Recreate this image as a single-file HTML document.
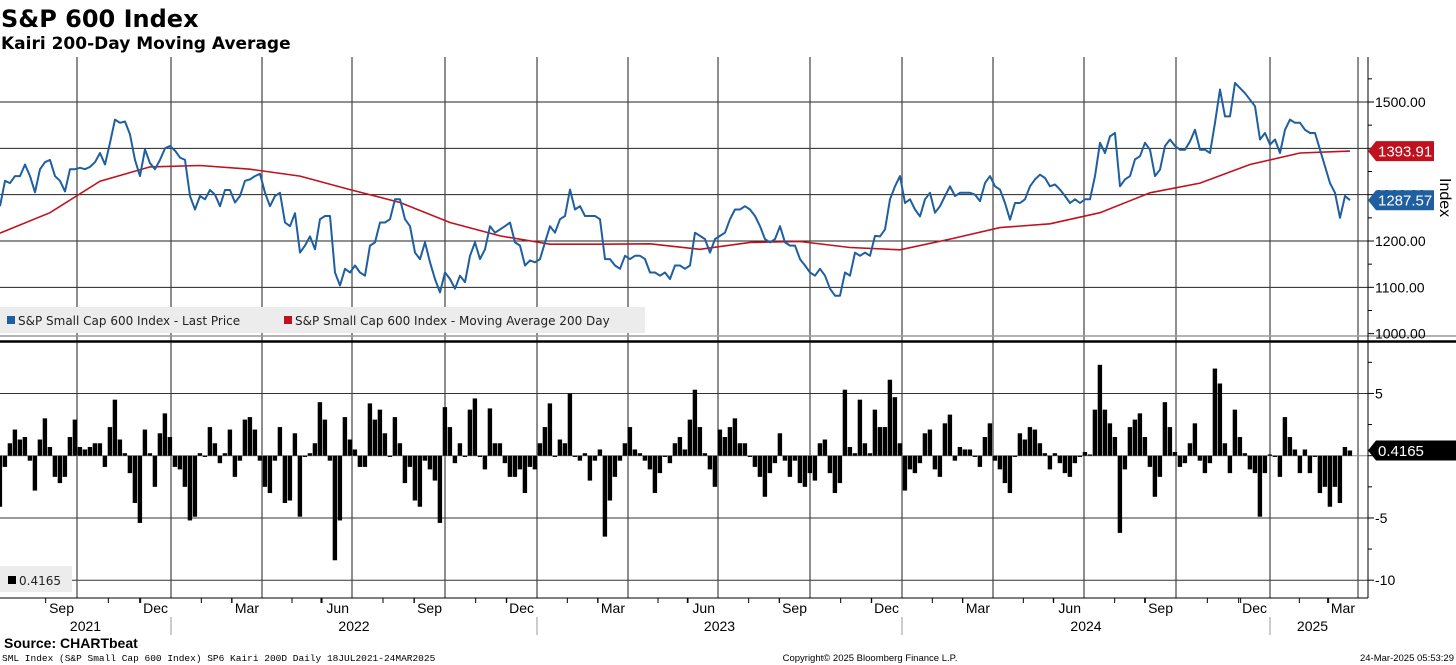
<!DOCTYPE html>
<html><head><meta charset="utf-8"><style>
body{margin:0;background:#fff;width:1456px;height:665px;overflow:hidden;font-family:"Liberation Sans",sans-serif}
svg{display:block}
</style></head><body>
<svg id="chart" width="1456" height="665" viewBox="0 0 1456 665" xmlns="http://www.w3.org/2000/svg">
<text x="1" y="27" font-size="24" font-weight="bold" font-family="DejaVu Sans, sans-serif" fill="#000">S&amp;P 600 Index</text>
<text x="1" y="49" font-size="17" font-weight="bold" font-family="DejaVu Sans, sans-serif" fill="#000">Kairi 200-Day Moving Average</text>
<g id="grid"></g>
<g id="bars"></g>
<g id="lines"></g>
<g id="axes"></g>
<g font-family="DejaVu Sans, sans-serif">
<rect x="0" y="307" width="645" height="26" fill="#ececec"/>
<rect x="7" y="316" width="8" height="8" fill="#1f5fa0"/>
<text x="18" y="325" font-size="12" fill="#222">S&amp;P Small Cap 600 Index - Last Price</text>
<rect x="284" y="316" width="8" height="8" fill="#c0111f"/>
<text x="295" y="325" font-size="12" fill="#222">S&amp;P Small Cap 600 Index - Moving Average 200 Day</text>
</g>
<g font-family="DejaVu Sans, sans-serif">
<rect x="0" y="566" width="72" height="26" fill="#ececec"/>
<rect x="8" y="576" width="8" height="8" fill="#000"/>
<text x="19" y="585" font-size="12" fill="#222">0.4165</text>
</g>
<text transform="translate(1440,178) rotate(90)" font-size="16" fill="#000">Index</text>
<text x="4" y="648" font-size="14" font-weight="bold" fill="#000">Source: CHARTbeat</text>
<text x="2" y="661" font-size="9.5" font-family="Liberation Mono, monospace" fill="#000">SML Index (S&amp;P Small Cap 600 Index) SP6 Kairi 200D  Daily 18JUL2021-24MAR2025</text>
<text x="870" y="661" font-size="9.5" text-anchor="middle" fill="#000">Copyright© 2025 Bloomberg Finance L.P.</text>
<text x="1454" y="661" font-size="9.5" text-anchor="end" fill="#000">24-Mar-2025 05:53:29</text>
</svg>
<script>
const price=[1275,1330,1325,1340,1340,1365,1340,1305,1355,1370,
1375,1340,1330,1307,1355,1355,1358,1355,1360,1370,
1390,1365,1412,1462,1455,1458,1430,1375,1340,1398,
1368,1355,1375,1400,1405,1395,1380,1375,1297,1268,
1297,1290,1310,1300,1275,1310,1310,1283,1297,1330,
1333,1340,1345,1304,1275,1297,1304,1240,1232,1260,
1175,1190,1210,1182,1247,1254,1254,1132,1104,1140,
1132,1147,1132,1125,1190,1197,1240,1240,1247,1290,
1290,1247,1232,1175,1161,1197,1154,1118,
1089,1132,1118,1097,1125,1111,1168,1197,1161,1182,
1232,1218,1225,1232,1240,1197,1190,1147,1158,1154,
1161,1197,1232,1218,1247,1254,1311,1268,1275,1254,
1254,1254,1247,1161,1161,1147,1140,1168,1161,1168,
1168,1161,1132,1132,1125,1132,1118,1147,1147,1140,
1147,1218,1211,1204,1175,1204,1211,1218,1247,1268,
1268,1275,1268,1254,1232,1204,1197,1204,1232,1197,
1190,1190,1161,1147,1132,1125,1140,1125,1097,1082,
1082,1132,1125,1175,1168,1175,1168,1211,
1210,1225,1290,1318,1340,1282,1290,1268,1253,1290,
1304,1261,1275,1297,1318,1297,1304,1304,1304,1300,
1286,1325,1340,1318,1311,1282,1246,1282,1282,1290,
1318,1333,1343,1336,1318,1322,1311,1297,1282,1290,
1282,1290,1290,1340,1412,1390,1426,1433,1318,1333,
1340,1376,1383,1412,1397,1340,1354,1405,1419,1405,
1397,1397,1415,1440,1397,1397,1390,1455,1527,1469,
1469,1541,1530,1519,1505,1491,1419,1433,1408,1419,
1390,1440,1462,1455,1455,1440,1433,1433,1397,1361,
1325,1304,1250,1297,1288];
const movingAvg=[1217,1261,1329,1360,1363,1355,1340,1311,1283,1240,1211,1193,1193,1194,1182,1197,1199,1186,1181,1204,1229,1237,1261,1304,1325,1365,1390,1394];
const maStep=10;
const kairi=[-4.1,-0.9,1.0,2.1,1.3,1.5,-0.4,-2.8,1.3,3.0,0.7,-1.7,-2.2,-1.7,1.5,2.9,0.7,0.5,0.7,1.0,
1.0,-0.9,2.3,4.5,1.3,0.2,-1.4,-3.8,-5.4,2.1,0.2,-2.5,1.8,3.4,1.5,-0.9,-1.1,-2.5,-5.2,-4.9,
0.2,-0.1,2.3,1.0,-0.6,0.2,2.1,-1.7,-0.4,2.9,3.1,2.1,-0.4,-2.5,-3.0,-0.4,2.3,-3.8,-3.6,1.8,
-4.9,-0.1,0.2,1.0,4.3,2.9,-0.4,-8.4,-5.2,3.1,1.3,0.5,-0.9,-0.9,4.2,2.9,3.7,1.8,-0.1,3.1,
1.0,-2.2,-0.9,-3.6,-4.1,-0.4,-1.1,-2.0,-5.4,3.9,2.3,-0.6,1.0,-0.1,3.7,4.6,-0.1,-1.1,3.8,1.0,
1.0,-0.6,-1.7,-1.7,-1.1,-3.0,-0.9,-1.1,1.0,2.3,4.2,-0.1,1.3,1.0,5.0,-0.1,-0.4,0.2,-2.0,-0.4,
0.5,-6.5,-3.6,-1.7,-0.4,1.0,2.3,0.5,0.2,-0.4,-1.1,-3.0,-1.4,-0.1,-0.6,1.0,1.5,0.5,2.9,5.3,
2.3,0.2,-1.1,-2.5,2.1,1.5,2.3,3.0,1.0,1.0,-0.1,-0.9,-1.7,-3.3,-1.4,-0.6,1.8,-0.4,-1.7,-0.4,
-2.2,-2.5,-1.4,-2.0,1.0,1.3,-1.4,-3.0,-2.2,5.3,0.7,0.2,4.5,1.0,0.2,3.7,2.3,2.3,6.1,4.7,
1.0,-2.8,-1.1,-1.4,-0.6,1.8,2.1,-1.1,-1.7,2.6,3.3,-0.4,0.7,0.5,0.5,-0.1,-0.9,1.5,2.6,-0.4,
-1.1,-2.2,-3.0,-0.1,1.8,1.3,2.3,2.1,1.0,0.2,-1.1,0.2,-0.6,-1.4,-1.7,-0.6,-0.1,0.3,0.1,3.7,
7.3,3.7,2.6,1.5,-6.2,-1.1,2.3,2.9,3.4,1.5,-0.9,-3.3,-1.7,4.3,2.3,0.3,-0.9,-0.6,1.0,2.6,
-0.4,-1.4,-0.6,7.0,5.8,1.0,-1.4,3.7,1.5,0.2,-1.1,-1.4,-4.9,-1.4,0.1,-0.1,-1.7,3.1,1.5,0.5,
-1.4,0.5,-1.4,-0.1,-3.0,-2.5,-4.1,-2.5,-3.8,0.7,0.42];
const monthLabels=["Sep","Dec","Mar","Jun","Sep","Dec","Mar","Jun","Sep","Dec","Mar","Jun","Sep","Dec","Mar"];
const monthTicks=[15.4,34.2,52.4,70.4,89,107.4,125.6,143.6,162,180.4,198.6,216.8,235.2,254,271.6];
const yearLabels=["2021","2022","2023","2024","2025"];
const yearBounds=[[0,34.2],[34.2,107.4],[107.4,180.4],[180.4,254],[254,271]];
const priceTicks=[1000,1100,1200,1300,1400,1500];
const priceTickLabels=["1000.00","1100.00","1200.00","1300.00","","1500.00"];
const kairiTicks=[5,0,-5,-10];
const kairiTickLabels=["5","","-5","-10"];
const lastMA="1393.91", lastPrice="1287.57", lastKairi="0.4165";

const NS="http://www.w3.org/2000/svg";
const X=t=>t*5;
const YP=v=>102+(1500-v)*0.4633;
const YK=v=>455.7-v*12.45;
function mk(tag,attrs,parent){const e=document.createElementNS(NS,tag);for(const k in attrs)e.setAttribute(k,attrs[k]);parent.appendChild(e);return e;}
const grid=document.getElementById('grid'),axes=document.getElementById('axes'),bars=document.getElementById('bars'),lines=document.getElementById('lines');

priceTicks.forEach(v=>{if(v>1000){const l=mk('line',{x1:0,x2:1368,y1:YP(v),y2:YP(v),stroke:'#222','stroke-width':1},grid);

}});
kairiTicks.forEach(v=>{if(v!==0){const l=mk('line',{x1:0,x2:1368,y1:YK(v),y2:YK(v),stroke:'#333','stroke-width':1},grid);

}});
monthTicks.forEach(t=>{const l=mk('line',{x1:X(t),x2:X(t),y1:57,y2:598,stroke:'#444','stroke-width':1.2},grid);

});
mk('line',{x1:0,x2:1368,y1:YK(0),y2:YK(0),stroke:'#888','stroke-width':1},grid);

kairi.forEach((v,i)=>{const y0=YK(0),y1=YK(v);const r=mk('rect',{x:X(i)-2.3,y:Math.min(y0,y1),width:4.4,height:Math.max(0.5,Math.abs(y1-y0)),fill:'#000'},bars);

});

const maPath=movingAvg.map((v,j)=>(j?'L':'M')+X(j*maStep).toFixed(1)+' '+YP(v).toFixed(1)).join(' ');
const ma=mk('path',{d:maPath,fill:'none',stroke:'#c0111f','stroke-width':1.6},lines);


const pPath=price.map((v,i)=>(i?'L':'M')+X(i).toFixed(1)+' '+YP(v).toFixed(1)).join(' ');
const pl=mk('path',{d:pPath,fill:'none',stroke:'#1f5fa0','stroke-width':2,'stroke-linejoin':'round'},lines);



mk('line',{x1:0,x2:1456,y1:336,y2:336,stroke:'#999','stroke-width':1.5},axes);
mk('line',{x1:0,x2:1456,y1:341.5,y2:341.5,stroke:'#000','stroke-width':2.5},axes);
mk('line',{x1:0,x2:1368,y1:598,y2:598,stroke:'#000','stroke-width':1},axes);
mk('line',{x1:1368,x2:1368,y1:57,y2:598,stroke:'#000','stroke-width':1},axes);
for(let v=1000;v<=1550;v+=50){mk('line',{x1:1368,x2:v%100===0?1374:1372,y1:YP(v),y2:YP(v),stroke:'#000'},axes);}
priceTicks.forEach((v,i)=>{if(priceTickLabels[i]){const t=mk('text',{x:1375,y:YP(v)+5,'font-size':14,fill:'#000'},axes);t.textContent=priceTickLabels[i];

}});
for(let v=-10;v<=7.5;v+=2.5){mk('line',{x1:1368,x2:v%5===0?1374:1372,y1:YK(v),y2:YK(v),stroke:'#000'},axes);}
kairiTicks.forEach((v,i)=>{if(kairiTickLabels[i]){const t=mk('text',{x:1375,y:YK(v)+5,'font-size':14,fill:'#000'},axes);t.textContent=kairiTickLabels[i];

}});
function tag(yc,txt,bg,w,name){const g=mk('g',{},axes);


mk('path',{d:`M1368 ${yc} L1376 ${yc-10} L${1368+w} ${yc-10} L${1368+w} ${yc+10} L1376 ${yc+10} Z`,fill:bg},g);
const t=mk('text',{x:1378,y:yc+5.5,'font-size':15,fill:'#fff'},g);t.textContent=txt;}
tag(YP(movingAvg[movingAvg.length-1]),lastMA,'#c0111f',66,'ma-value-tag');
tag(YP(price[price.length-1]),lastPrice,'#1f5fa0',66,'price-value-tag');
tag(YK(kairi[kairi.length-1]),lastKairi,'#000',88,'kairi-value-tag');
for(let k=0;k<monthTicks.length;k++){const a=monthTicks[k],b=k+1<monthTicks.length?monthTicks[k+1]:a+18.2;
for(let m=-1;m<3;m++){const t=a+(b-a)*m/3;if(t>0&&t<271&&m!==0)mk('line',{x1:X(t),x2:X(t),y1:598,y2:603,stroke:'#000'},axes);}}
monthTicks.forEach((t,i)=>{const l=mk('text',{x:X(t)-3,y:613,'font-size':14,'text-anchor':'end',fill:'#000'},axes);l.textContent=monthLabels[i];

});
yearBounds.forEach((b,i)=>{const l=mk('text',{x:X((b[0]+b[1])/2),y:631,'font-size':14,'text-anchor':'middle',fill:'#000'},axes);l.textContent=yearLabels[i];


if(i>0)mk('line',{x1:X(b[0]),x2:X(b[0]),y1:617,y2:635,stroke:'#999'},axes);});
</script>
</body></html>
